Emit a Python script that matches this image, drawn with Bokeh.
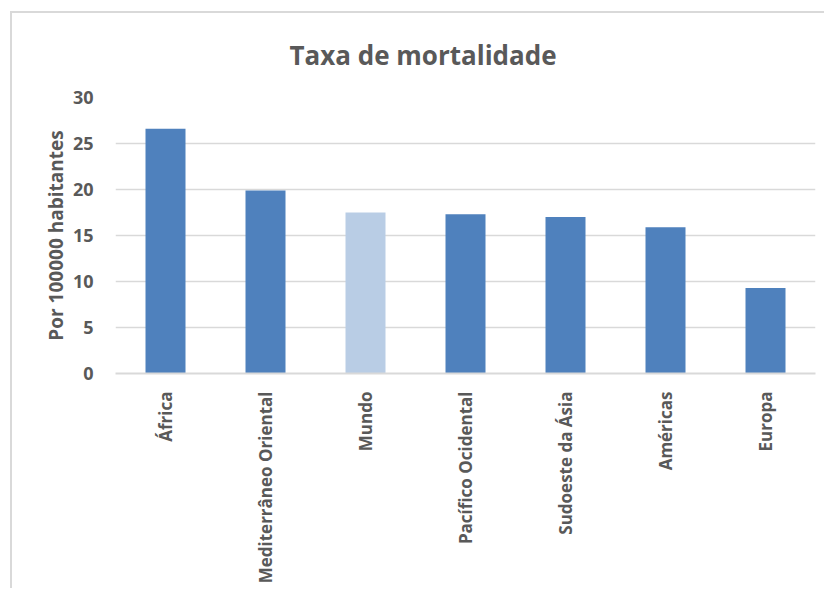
from bokeh.plotting import figure
from bokeh.models import ColumnDataSource, Range1d
from bokeh.embed import file_html
from bokeh.resources import INLINE
import math

categories = ["África", "Mediterrâneo Oriental", "Mundo", "Pacífico Ocidental",
              "Sudoeste da Ásia", "Américas", "Europa"]
values = [26.6, 19.9, 17.5, 17.3, 17.0, 15.9, 9.3]
highlight = "Mundo"
y_ticks = [0, 5, 10, 15, 20, 25, 30]

BLUE = "#4f81bd"
LIGHT = "#b9cde5"
TEXT = "#595959"
GRID = "#d9d9d9"
FONT = "Open Sans"

colors = [LIGHT if c == highlight else BLUE for c in categories]
src = ColumnDataSource(dict(cat=categories, val=values, color=colors))

p = figure(x_range=categories, y_range=Range1d(0, 30),
           width=814, height=577, output_backend="svg", toolbar_location=None,
           min_border_left=103, min_border_right=11, min_border_top=84, min_border_bottom=217,
           margin=(11, 0, 0, 10),
           styles={"border-top": "2px solid #d9d9d9", "border-left": "2px solid #d9d9d9"})

p.title.text = "Taxa de mortalidade"
p.title.text_font = FONT
p.title.text_font_size = "26px"
p.title.text_font_style = "bold"
p.title.text_color = TEXT
p.title.align = "left"
p.title.offset = 174
p.title.standoff = 46
p.title.vertical_align = "top"

p.vbar(x="cat", top="val", width=0.4, color="color", source=src, line_color=None)

p.outline_line_color = None
p.x_range.range_padding = 0
p.xgrid.grid_line_color = None
p.ygrid.grid_line_color = GRID
p.ygrid.grid_line_width = 1.5
p.yaxis.ticker = y_ticks

p.yaxis.axis_line_color = None
p.yaxis.major_tick_line_color = None
p.yaxis.minor_tick_line_color = None
p.yaxis.major_label_text_font = FONT
p.yaxis.major_label_text_font_size = "18px"
p.yaxis.major_label_text_font_style = "bold"
p.yaxis.major_label_text_color = TEXT
p.yaxis.major_label_standoff = 16
p.yaxis.axis_label = "Por 100000 habitantes"
p.yaxis.axis_label_text_font = FONT
p.yaxis.axis_label_text_font_size = "19px"
p.yaxis.axis_label_text_font_style = "bold"
p.yaxis.axis_label_text_color = TEXT
p.yaxis.axis_label_standoff = 1

p.xaxis.axis_line_color = GRID
p.xaxis.axis_line_width = 2
p.xaxis.major_tick_line_color = None
p.xaxis.minor_tick_line_color = None
p.xaxis.major_label_orientation = math.pi / 2
p.xaxis.major_label_text_font = FONT
p.xaxis.major_label_text_font_size = "17px"
p.xaxis.major_label_text_font_style = "bold"
p.xaxis.major_label_text_color = TEXT
p.xaxis.major_label_standoff = 12

open("out.html", "w").write(file_html(p, INLINE))
